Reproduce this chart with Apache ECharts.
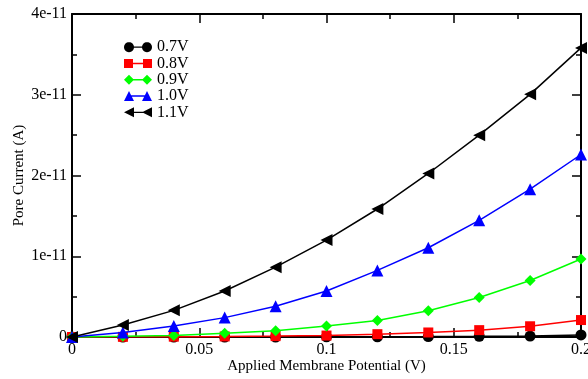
<!DOCTYPE html>
<html>
<head>
<meta charset="utf-8">
<script src="https://cdn.jsdelivr.net/npm/echarts@6/dist/echarts.min.js"></script>
<style>
  html, body { margin: 0; padding: 0; background: #fff; }
  #chart { width: 588px; height: 379px; }
</style>
</head>
<body>
<div id="chart"></div>
<script>
// Applied membrane potential (V)
const potential = [0, 0.02, 0.04, 0.06, 0.08, 0.1, 0.12, 0.14, 0.16, 0.18, 0.2];

// Pore current (A) for each electroporation voltage
const current07 = [0, 0.0e-11, 0.0e-11, 0.0e-11, 0.0e-11, 0.002e-11, 0.003e-11, 0.005e-11, 0.008e-11, 0.012e-11, 0.025e-11];
const current08 = [0, 0.002e-11, 0.004e-11, 0.007e-11, 0.011e-11, 0.018e-11, 0.035e-11, 0.056e-11, 0.085e-11, 0.133e-11, 0.21e-11];
const current09 = [0, 0.008e-11, 0.02e-11, 0.045e-11, 0.076e-11, 0.135e-11, 0.205e-11, 0.326e-11, 0.49e-11, 0.70e-11, 0.966e-11];
const current10 = [0, 0.055e-11, 0.135e-11, 0.24e-11, 0.38e-11, 0.57e-11, 0.825e-11, 1.105e-11, 1.445e-11, 1.83e-11, 2.26e-11];
const current11 = [0, 0.148e-11, 0.33e-11, 0.57e-11, 0.865e-11, 1.2e-11, 1.585e-11, 2.025e-11, 2.5e-11, 3.005e-11, 3.58e-11];

const seriesNames = ['0.7V', '0.8V', '0.9V', '1.0V', '1.1V'];
const xTickLabels = ['0', '0.05', '0.1', '0.15', '0.2'];
const yTickLabels = ['0', '1e-11', '2e-11', '3e-11', '4e-11'];

const seriesData = [current07, current08, current09, current10, current11];
const colors = ['#000000', '#ff0000', '#00ff00', '#0000ff', '#000000'];

// Marker shapes along each curve
const symbols = ['circle', 'rect', 'diamond', 'triangle', 'triangle'];
const symbolSizes = [11, 10, 11, 12, 12];
const symbolRotates = [0, 0, 0, 0, 90];

// Round dot as a closed polygon centred at (cx, 5)
function dotPath(cx) {
  const pts = [];
  for (let k = 0; k < 24; k++) {
    const a = (k / 24) * Math.PI * 2;
    pts.push((cx + 5 * Math.cos(a)).toFixed(2) + ',' + (5 + 5 * Math.sin(a)).toFixed(2));
  }
  return 'M' + pts.join(' L') + ' Z ';
}

// Legend keys: marker, connecting line, marker (drawn in a 28x10 box)
const bar = 'M5,4.3 L23,4.3 L23,5.7 L5,5.7 Z ';
const legendIcons = [
  'path://' + dotPath(5) + bar + dotPath(23) + 'M0,0 Z M28,10 Z',
  'path://M0,0.5 L9,0.5 L9,9.5 L0,9.5 Z ' + bar + 'M19,0.5 L28,0.5 L28,9.5 L19,9.5 Z',
  'path://M0,5 L5,0 L10,5 L5,10 Z ' + bar + 'M18,5 L23,0 L28,5 L23,10 Z',
  'path://M0,10 L5,0 L10,10 Z ' + bar + 'M18,10 L23,0 L28,10 Z',
  'path://M0,5 L10,0 L10,10 Z ' + bar + 'M18,5 L28,0 L28,10 Z'
];

const serif = '"Liberation Serif", "DejaVu Serif", serif';

function yLabel(v) {
  const k = Math.round(v / 1e-11);
  return yTickLabels[k] !== undefined ? yTickLabels[k] : '';
}
function xLabel(v) {
  const k = Math.round(v / 0.05);
  return xTickLabels[k] !== undefined ? xTickLabels[k] : '';
}

const axisLine = { show: true, onZero: false, lineStyle: { color: '#000', width: 2 } };
const tickInside = { show: true, inside: true, length: 9, lineStyle: { color: '#000', width: 1.5 } };
const minorInside = { show: true, splitNumber: 2, length: 5, lineStyle: { color: '#000', width: 1.5 } };

const chart = echarts.init(document.getElementById('chart'), null, { renderer: 'canvas' });

chart.setOption({
  backgroundColor: '#ffffff',
  animation: false,
  grid: { left: 72, right: 7, top: 14, bottom: 42, containLabel: false, outerBoundsMode: 'none' },
  legend: {
    left: 124,
    top: 39,
    padding: 0,
    orient: 'vertical',
    itemWidth: 28,
    itemHeight: 10,
    itemGap: 0,
    selectedMode: false,
    textStyle: { fontFamily: serif, fontSize: 16, lineHeight: 16.3, color: '#000' },
    data: seriesNames.map((n, i) => ({ name: n, icon: legendIcons[i], itemStyle: { color: colors[i] } }))
  },
  xAxis: [
    {
      type: 'value', min: 0, max: 0.2, interval: 0.05, position: 'bottom',
      axisLine: axisLine,
      axisTick: tickInside,
      minorTick: Object.assign({}, minorInside),
      splitLine: { show: false },
      axisLabel: { formatter: xLabel, fontFamily: serif, fontSize: 16, color: '#000', margin: 5 },
      name: 'Applied Membrane Potential (V)',
      nameLocation: 'middle', nameGap: 21.5, nameMoveOverlap: false,
      nameTextStyle: { fontFamily: serif, fontSize: 15, color: '#000' }
    },
    {
      type: 'value', min: 0, max: 0.2, interval: 0.05, position: 'top',
      axisLine: axisLine,
      axisTick: tickInside,
      minorTick: Object.assign({}, minorInside),
      splitLine: { show: false },
      axisLabel: { show: false }
    }
  ],
  yAxis: [
    {
      type: 'value', min: 0, max: 4e-11, interval: 1e-11, position: 'left',
      axisLine: axisLine,
      axisTick: tickInside,
      minorTick: Object.assign({}, minorInside),
      splitLine: { show: false },
      axisLabel: { formatter: yLabel, fontFamily: serif, fontSize: 16, color: '#000', margin: 5 },
      name: 'Pore Current (A)',
      nameLocation: 'middle', nameGap: 45, nameRotate: 90, nameMoveOverlap: false,
      nameTextStyle: { fontFamily: serif, fontSize: 15, color: '#000' }
    },
    {
      type: 'value', min: 0, max: 4e-11, interval: 1e-11, position: 'right',
      axisLine: axisLine,
      axisTick: tickInside,
      minorTick: Object.assign({}, minorInside),
      splitLine: { show: false },
      axisLabel: { show: false }
    }
  ],
  series: seriesNames.map((name, i) => ({
    name: name,
    type: 'line',
    xAxisIndex: 0,
    yAxisIndex: 0,
    data: potential.map((x, j) => [x, seriesData[i][j]]),
    symbol: symbols[i],
    symbolSize: symbolSizes[i],
    symbolRotate: symbolRotates[i],
    showAllSymbol: true,
    clip: false,
    lineStyle: { color: colors[i], width: 1.5 },
    itemStyle: { color: colors[i], borderWidth: 0 },
    z: 2 + i
  }))
});
</script>
</body>
</html>
